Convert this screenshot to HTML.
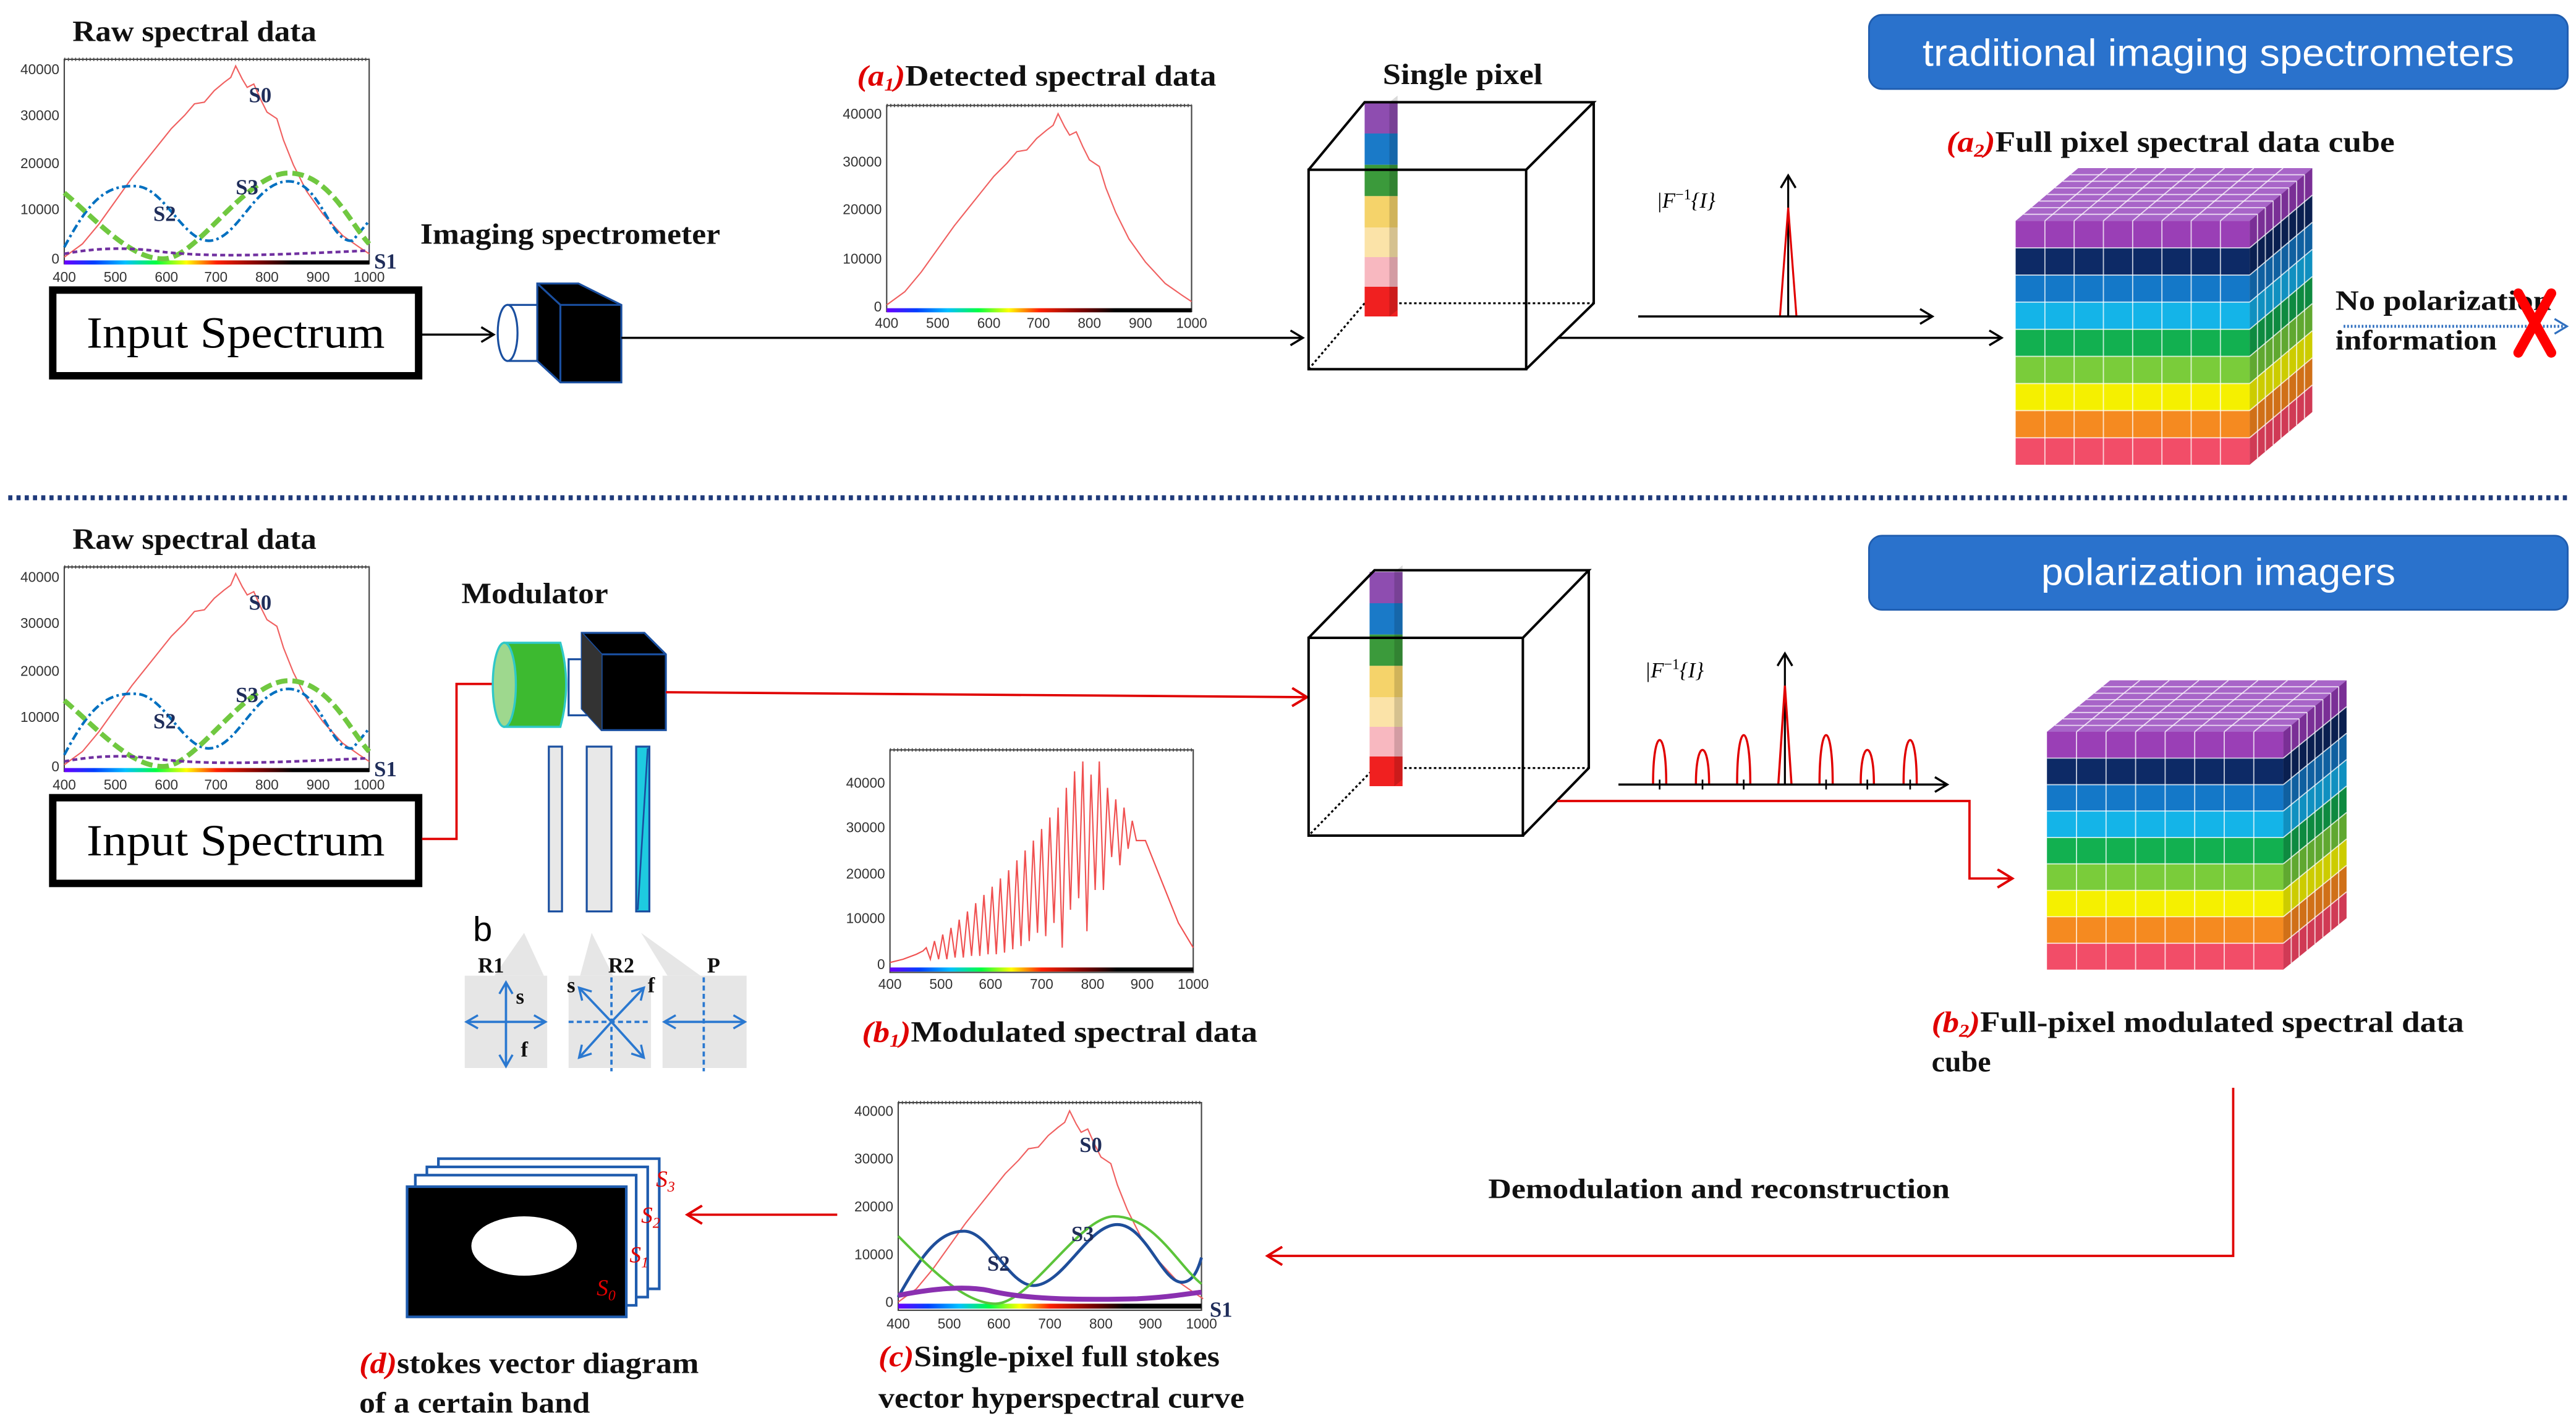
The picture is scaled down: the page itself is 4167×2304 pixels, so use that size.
<!DOCTYPE html>
<html><head><meta charset="utf-8"><style>
html,body{margin:0;padding:0;background:#fff;}
svg{display:block;}
.t{font-family:"Liberation Serif",serif;font-weight:bold;fill:#111;}
.ax{font-family:"Liberation Sans",sans-serif;font-size:8.5px;fill:#333;}
.sl{font-family:"Liberation Serif",serif;font-weight:bold;font-size:13px;fill:#1f2d5a;}
.r{fill:#e00000;font-style:italic;}
</style></head><body>
<svg width="4167" height="2304" viewBox="0 0 1563 864" preserveAspectRatio="none" xmlns="http://www.w3.org/2000/svg">
<defs>
<marker id="ab" markerWidth="10" markerHeight="10" refX="8" refY="5" orient="auto" markerUnits="userSpaceOnUse"><path d="M1,0.5 L8.5,5 L1,9.5" fill="none" stroke="#000" stroke-width="1.3"/></marker>
<marker id="ar" markerWidth="12" markerHeight="12" refX="9" refY="6" orient="auto" markerUnits="userSpaceOnUse"><path d="M1,0.5 L10,6 L1,11.5" fill="none" stroke="#e00000" stroke-width="1.5"/></marker>
<marker id="abl" markerWidth="10" markerHeight="10" refX="8" refY="5" orient="auto" markerUnits="userSpaceOnUse"><path d="M1,0.5 L8.5,5 L1,9.5" fill="none" stroke="#2f6fbf" stroke-width="1.2"/></marker>
<marker id="bb" markerWidth="10" markerHeight="10" refX="7" refY="5" orient="auto" markerUnits="userSpaceOnUse"><path d="M1,1 L8,5 L1,9" fill="none" stroke="#2a78d0" stroke-width="1.3"/></marker>
<linearGradient id="rb" x1="0" x2="1" y1="0" y2="0">
<stop offset="0" stop-color="#6a00ff"/><stop offset="0.1" stop-color="#0040ff"/><stop offset="0.2" stop-color="#00c0ff"/><stop offset="0.3" stop-color="#00ff40"/><stop offset="0.4" stop-color="#ffff00"/><stop offset="0.5" stop-color="#ff2000"/><stop offset="0.65" stop-color="#700000"/><stop offset="0.75" stop-color="#000"/></linearGradient>

<path id="s0" d="M39,156 L50,148 60,136 70,122 80,108 88,98 96,88 104,78 112,70 118,63 124,62 130,55 136,50 140,47 143,40 147,48 150,53 154,51 158,60 162,68 168,72 172,85 178,100 186,116 196,130 208,143 218,150 224,154" fill="none" stroke="#f06060" stroke-width="0.8"/>

<g id="cube">
<rect x="0" y="0" width="142" height="16.5" fill="#9a3fb6"/>
<rect x="0" y="16.4" width="142" height="16.5" fill="#0d2a66"/>
<rect x="0" y="32.9" width="142" height="16.5" fill="#1478c8"/>
<rect x="0" y="49.3" width="142" height="16.5" fill="#14b4e8"/>
<rect x="0" y="65.8" width="142" height="16.5" fill="#12b050"/>
<rect x="0" y="82.2" width="142" height="16.5" fill="#7acc3a"/>
<rect x="0" y="98.7" width="142" height="16.5" fill="#f5f000"/>
<rect x="0" y="115.1" width="142" height="16.5" fill="#f58a20"/>
<rect x="0" y="131.6" width="142" height="16.4" fill="#f24d68"/>
<polygon points="0,0 142,0 180,-32 38,-32" fill="#a865c8"/>
<polygon points="142,0 180,-32 180,-15.6 142,16.4" fill="#7a2f96"/>
<polygon points="142,16.4 180,-15.6 180,0.9 142,32.9" fill="#0a1f50"/>
<polygon points="142,32.9 180,0.9 180,17.3 142,49.3" fill="#1060a0"/>
<polygon points="142,49.3 180,17.3 180,33.8 142,65.8" fill="#1090c0"/>
<polygon points="142,65.8 180,33.8 180,50.2 142,82.2" fill="#0e8a40"/>
<polygon points="142,82.2 180,50.2 180,66.7 142,98.7" fill="#60a830"/>
<polygon points="142,98.7 180,66.7 180,83.1 142,115.1" fill="#cccc00"/>
<polygon points="142,115.1 180,83.1 180,99.6 142,131.6" fill="#d07018"/>
<polygon points="142,131.6 180,99.6 180,116 142,148" fill="#d03a55"/>
<g stroke="#fff" stroke-opacity="0.75" stroke-width="0.7" fill="none">
<path d="M17.75,0V148M35.5,0V148M53.25,0V148M71,0V148M88.75,0V148M106.5,0V148M124.25,0V148"/>
<path d="M0,16.4H142M0,32.9H142M0,49.3H142M0,65.8H142M0,82.2H142M0,98.7H142M0,115.1H142M0,131.6H142"/>
<path d="M17.75,0l38,-32M35.5,0l38,-32M53.25,0l38,-32M71,0l38,-32M88.75,0l38,-32M106.5,0l38,-32M124.25,0l38,-32"/>
<path d="M4.75,-4H146.75M9.5,-8H151.5M14.25,-12H156.25M19,-16H161M23.75,-20H165.75M28.5,-24H170.5M33.25,-28H175.25"/>
<path d="M146.75,-4v148M151.5,-8v148M156.25,-12v148M161,-16v148M165.75,-20v148M170.5,-24v148M175.25,-28v148"/>
<path d="M142,16.4l38,-32M142,32.9l38,-32M142,49.3l38,-32M142,65.8l38,-32M142,82.2l38,-32M142,98.7l38,-32M142,115.1l38,-32M142,131.6l38,-32"/>
</g>
</g>

<g id="col">
<rect x="0" y="0" width="20" height="19" fill="#8e4db0"/>
<rect x="0" y="19" width="20" height="19" fill="#1a7ac8"/>
<rect x="0" y="38" width="20" height="19" fill="#3b9a3b"/>
<rect x="0" y="57" width="20" height="19" fill="#f5d36a"/>
<rect x="0" y="76" width="20" height="18" fill="#fbe3a8"/>
<rect x="0" y="94" width="20" height="18" fill="#f8b8c0"/>
<rect x="0" y="112" width="20" height="18" fill="#f02020"/>
<path d="M15,0 L20,-4 V126 L15,130Z" fill="#000" fill-opacity="0.15"/>
</g>

<g id="plotA">
<rect x="39" y="36" width="185" height="124" fill="#fff" stroke="#444" stroke-width="0.8"/>
<path d="M39,36H224" stroke="#444" stroke-width="2" stroke-dasharray="0.6 1.6" fill="none"/>
<rect x="39" y="158" width="185" height="2.5" fill="url(#rb)"/>
<text class="ax" x="36" y="45" text-anchor="end">40000</text>
<text class="ax" x="36" y="73" text-anchor="end">30000</text>
<text class="ax" x="36" y="102" text-anchor="end">20000</text>
<text class="ax" x="36" y="130" text-anchor="end">10000</text>
<text class="ax" x="36" y="160" text-anchor="end">0</text>
<g class="ax" text-anchor="middle"><text x="39" y="171">400</text><text x="70" y="171">500</text><text x="101" y="171">600</text><text x="131" y="171">700</text><text x="162" y="171">800</text><text x="193" y="171">900</text><text x="224" y="171">1000</text></g>
<use href="#s0"/>
<path d="M39,150 C55,120 65,112 83,113 C100,114 112,148 128,146 C145,144 155,110 175,110 C195,110 200,148 214,146 L224,134" fill="none" stroke="#0070c0" stroke-width="1.6" stroke-dasharray="5 2 1.5 2"/>
<path d="M39,117 C60,135 80,158 100,157 C120,156 150,104 176,105 C200,106 212,135 224,148" fill="none" stroke="#70c840" stroke-width="3" stroke-dasharray="7 3"/>
<path d="M39,154 C60,150 80,150 100,153 C130,156 160,155 224,152" fill="none" stroke="#7030a0" stroke-width="1.6" stroke-dasharray="3 2"/>
<text class="sl" x="151" y="62">S0</text><text class="sl" x="93" y="134">S2</text><text class="sl" x="143" y="118">S3</text><text class="sl" x="227" y="163">S1</text>
<text class="t" x="44" y="25" font-size="18" textLength="148" lengthAdjust="spacingAndGlyphs">Raw spectral data</text>
<rect x="32" y="176" width="222" height="52" fill="#fff" stroke="#000" stroke-width="4.5"/>
<text x="143" y="211" text-anchor="middle" font-family="Liberation Serif,serif" font-size="27" textLength="181" lengthAdjust="spacingAndGlyphs">Input Spectrum</text>
</g>
</defs>

<!-- ============ TOP ============ -->
<use href="#plotA"/>
<line x1="256" y1="203" x2="299" y2="203" stroke="#000" stroke-width="1.3" marker-end="url(#ab)"/>
<!-- camera -->
<rect x="308" y="185" width="32" height="34" fill="#fff" stroke="#1a4fa0" stroke-width="1.2"/>
<ellipse cx="308" cy="202" rx="6" ry="17" fill="#fff" stroke="#1a4fa0" stroke-width="1.2"/>
<polygon points="326,172 351,172 377,185 377,232 340,232 326,219" fill="#000" stroke="#1a4fa0" stroke-width="1.2"/>
<polyline points="326,172 340,185 377,185 M340,185" fill="none" stroke="#1a4fa0" stroke-width="1.2"/>
<line x1="340" y1="185" x2="340" y2="232" stroke="#1a4fa0" stroke-width="1.2"/>
<line x1="377" y1="205" x2="790" y2="205" stroke="#000" stroke-width="1.3" marker-end="url(#ab)"/>
<text class="t" x="255" y="148" font-size="18" textLength="182" lengthAdjust="spacingAndGlyphs">Imaging spectrometer</text>

<!-- plot a1 -->
<rect x="538" y="64" width="185" height="125" fill="#fff" stroke="#444" stroke-width="0.8"/>
<path d="M538,64H723" stroke="#444" stroke-width="2" stroke-dasharray="0.6 1.6" fill="none"/>
<rect x="538" y="187" width="185" height="2.5" fill="url(#rb)"/>
<g class="ax" text-anchor="end"><text x="535" y="72">40000</text><text x="535" y="101">30000</text><text x="535" y="130">20000</text><text x="535" y="160">10000</text><text x="535" y="189">0</text></g>
<g class="ax" text-anchor="middle"><text x="538" y="199">400</text><text x="569" y="199">500</text><text x="600" y="199">600</text><text x="630" y="199">700</text><text x="661" y="199">800</text><text x="692" y="199">900</text><text x="723" y="199">1000</text></g>
<use href="#s0" transform="translate(499,29)"/>
<text class="t" x="520" y="52" font-size="18" textLength="218" lengthAdjust="spacingAndGlyphs"><tspan class="r">(a</tspan><tspan class="r" font-size="11" dy="3">1</tspan><tspan class="r" dy="-3">)</tspan>Detected spectral data</text>

<!-- wire cube 1 -->
<text class="t" x="839" y="51" font-size="18" textLength="97" lengthAdjust="spacingAndGlyphs">Single pixel</text>
<g fill="none" stroke="#000">
<path d="M828,184H967M828,184L794,224" stroke-width="1.2" stroke-dasharray="1.5 1.5"/>
</g>
<use href="#col" transform="translate(828,62)"/>
<g fill="none" stroke="#000" stroke-width="1.5">
<rect x="794" y="103" width="132" height="121"/>
<path d="M794,103L828,62H967L926,103M967,62V184L926,224"/>
</g>
<text x="1005" y="126" font-family="Liberation Serif,serif" font-style="italic" font-size="13">|F<tspan font-size="9" dy="-5" font-style="normal">−1</tspan><tspan dy="5">{I}</tspan></text>
<line x1="1085" y1="192" x2="1085" y2="107" stroke="#000" stroke-width="1.2" marker-end="url(#ab)"/>
<path d="M1080,192 L1085,126 L1090,192" fill="none" stroke="#e00000" stroke-width="1.2"/>
<line x1="994" y1="192" x2="1172" y2="192" stroke="#000" stroke-width="1.3" marker-end="url(#ab)"/>
<line x1="945" y1="205" x2="1214" y2="205" stroke="#000" stroke-width="1.3" marker-end="url(#ab)"/>

<!-- banner 1 -->
<rect x="1134" y="9" width="424" height="45" rx="8" fill="#2a72cc" stroke="#1f5cae"/>
<text x="1346" y="40" text-anchor="middle" font-family="Liberation Sans,sans-serif" font-size="23" fill="#fff" textLength="359" lengthAdjust="spacingAndGlyphs">traditional imaging spectrometers</text>
<text class="t" x="1181" y="92" font-size="18" textLength="272" lengthAdjust="spacingAndGlyphs"><tspan class="r">(a</tspan><tspan class="r" font-size="11" dy="3">2</tspan><tspan class="r" dy="-3">)</tspan>Full pixel spectral data cube</text>
<use href="#cube" transform="translate(1223,134)"/>
<line x1="1422" y1="198" x2="1557" y2="198" stroke="#2f6fbf" stroke-width="1.8" stroke-dasharray="1 1.2" marker-end="url(#abl)"/>
<text class="t" x="1417" y="188" font-size="17" textLength="131" lengthAdjust="spacingAndGlyphs">No polarization</text>
<text class="t" x="1417" y="212" font-size="17" textLength="98" lengthAdjust="spacingAndGlyphs">information</text>
<path d="M1528,178 L1548,214 M1548,178 L1528,214" stroke="#ff0000" stroke-width="6" stroke-linecap="round"/>

<!-- separator -->
<line x1="5" y1="302" x2="1558" y2="302" stroke="#1f3a7a" stroke-width="3" stroke-dasharray="2.5 2.5"/>

<!-- ============ BOTTOM ============ -->
<use href="#plotA" transform="translate(0,308)"/>
<polyline points="256,509 277,509 277,415 308,415" fill="none" stroke="#e00000" stroke-width="1.4" marker-end="url(#ar)"/>
<text class="t" x="280" y="366" font-size="18" textLength="89" lengthAdjust="spacingAndGlyphs">Modulator</text>
<!-- modulator -->
<rect x="345" y="400" width="22" height="34" fill="#fff" stroke="#1a4fa0" stroke-width="1.2"/>
<path d="M306,390 H340 Q347,415 340,441 H306Z" fill="#3dba30" stroke="#2fc8c8" stroke-width="1.3"/>
<ellipse cx="306" cy="415.5" rx="7" ry="25.5" fill="#9ed88e" stroke="#2fc8c8" stroke-width="1.3"/>
<polygon points="353,384 391,384 404,397 404,443 365,443 353,430" fill="#000" stroke="#1a4fa0" stroke-width="1.2"/>
<path d="M353,384 L365,397 H404 M365,397 V443" fill="none" stroke="#1a4fa0" stroke-width="1.2"/>
<polygon points="353,384 365,397 365,443 353,430" fill="#333"/>
<line x1="404" y1="420" x2="792" y2="423" stroke="#e00000" stroke-width="1.4" marker-end="url(#ar)"/>
<!-- plates -->
<rect x="333" y="453" width="8" height="100" fill="#e8e8e8" stroke="#1a4fa0" stroke-width="1.2"/>
<rect x="356" y="453" width="15" height="100" fill="#e8e8e8" stroke="#1a4fa0" stroke-width="1.2"/>
<rect x="386" y="453" width="8" height="100" fill="#1ecbe0" stroke="#1a4fa0" stroke-width="1.2"/>
<line x1="387" y1="552" x2="393" y2="454" stroke="#1a4fa0" stroke-width="1"/>
<text x="287" y="571" font-family="Liberation Sans,sans-serif" font-size="21">b</text>
<g fill="#e6e6e6">
<polygon points="318,566 300,592 330,592"/>
<polygon points="359,566 352,592 372,592"/>
<polygon points="389,566 405,592 425,592"/>
<rect x="282" y="592" width="50" height="56"/>
<rect x="345" y="592" width="50" height="56"/>
<rect x="402" y="592" width="51" height="56"/>
</g>
<g class="t" font-size="13"><text x="290" y="590">R1</text><text x="369" y="590">R2</text><text x="429" y="590">P</text></g>
<g stroke="#2a78d0" stroke-width="1.4" fill="none">
<line x1="307" y1="620" x2="307" y2="597" marker-end="url(#bb)"/>
<line x1="307" y1="620" x2="307" y2="646" marker-end="url(#bb)"/>
<line x1="307" y1="620" x2="284" y2="620" marker-end="url(#bb)"/>
<line x1="307" y1="620" x2="330" y2="620" marker-end="url(#bb)"/>
<line x1="371" y1="620" x2="352" y2="600" marker-end="url(#bb)"/>
<line x1="371" y1="620" x2="390" y2="600" marker-end="url(#bb)"/>
<line x1="371" y1="620" x2="352" y2="641" marker-end="url(#bb)"/>
<line x1="371" y1="620" x2="390" y2="641" marker-end="url(#bb)"/>
<path d="M371,593V650M345,620H395M427,593V650" stroke-dasharray="3 2"/>
<line x1="427" y1="620" x2="404" y2="620" marker-end="url(#bb)"/>
<line x1="427" y1="620" x2="451" y2="620" marker-end="url(#bb)"/>
</g>
<g class="t" font-size="13"><text x="313" y="609">s</text><text x="316" y="641">f</text><text x="344" y="602">s</text><text x="393" y="602">f</text></g>

<!-- plot b1 -->
<rect x="540" y="455" width="184" height="135" fill="#fff" stroke="#444" stroke-width="0.8"/>
<path d="M540,455H724" stroke="#444" stroke-width="2" stroke-dasharray="0.6 1.6" fill="none"/>
<rect x="540" y="587" width="184" height="2.5" fill="url(#rb)"/>
<g class="ax" text-anchor="end"><text x="537" y="478">40000</text><text x="537" y="505">30000</text><text x="537" y="533">20000</text><text x="537" y="560">10000</text><text x="537" y="588">0</text></g>
<g class="ax" text-anchor="middle"><text x="540" y="600">400</text><text x="571" y="600">500</text><text x="601" y="600">600</text><text x="632" y="600">700</text><text x="663" y="600">800</text><text x="693" y="600">900</text><text x="724" y="600">1000</text></g>
<path d="M540,584 L548,582 556,579 560,577 562,575 564.5,582 567,571 569.5,582 572,567 574.5,582 577,563 579.5,581 582,558 584.5,581 587,553 589.5,580 592,548 594.5,580 597,543 599.5,579 602,538 604.5,579 607,533 609.5,578 612,528 614.5,576 617,522 619.5,574 622,516 624.5,571 627,510 629.5,566 632,503 634.5,568 637,496 639.5,560 642,490 644.5,575 647,478 649.5,552 652,468 654.5,545 657,462 659.5,565 662,470 664.5,540 667,462 669.5,540 672,478 674.5,520 677,485 679.5,525 682,490 684.5,515 687,498 689.5,510 695,510 705,535 715,560 724,575" fill="none" stroke="#f05050" stroke-width="0.8"/>
<text class="t" x="523" y="632" font-size="18" textLength="240" lengthAdjust="spacingAndGlyphs"><tspan class="r">(b</tspan><tspan class="r" font-size="11" dy="3">1</tspan><tspan class="r" dy="-3">)</tspan>Modulated spectral data</text>

<!-- wire cube 2 -->
<g fill="none" stroke="#000">
<path d="M834,466H964M834,466L794,507" stroke-width="1.2" stroke-dasharray="1.5 1.5"/>
</g>
<use href="#col" transform="translate(831,347)"/>
<g fill="none" stroke="#000" stroke-width="1.5">
<rect x="794" y="387" width="130" height="120"/>
<path d="M794,387L834,346H964L924,387M964,346V466L924,507"/>
</g>
<text x="998" y="411" font-family="Liberation Serif,serif" font-style="italic" font-size="13">|F<tspan font-size="9" dy="-5" font-style="normal">−1</tspan><tspan dy="5">{I}</tspan></text>
<line x1="1083" y1="476" x2="1083" y2="397" stroke="#000" stroke-width="1.2" marker-end="url(#ab)"/>
<g fill="none" stroke="#e00000" stroke-width="1.3">
<path d="M1079,476 L1083,416 L1087,476"/>
<path d="M1003,476 C1003,440 1011,440 1011,476"/>
<path d="M1029,476 C1029,448 1037,448 1037,476"/>
<path d="M1054,476 C1054,436 1062,436 1062,476"/>
<path d="M1104,476 C1104,436 1112,436 1112,476"/>
<path d="M1129,476 C1129,448 1137,448 1137,476"/>
<path d="M1155,476 C1155,440 1163,440 1163,476"/>
</g>
<line x1="982" y1="476" x2="1181" y2="476" stroke="#000" stroke-width="1.3" marker-end="url(#ab)"/>
<path d="M1007,473v6M1033,473v6M1058,473v6M1108,473v6M1133,473v6M1159,473v6" stroke="#000" stroke-width="1"/>
<polyline points="945,486 1195,486 1195,533 1220,533" fill="none" stroke="#e00000" stroke-width="1.4" marker-end="url(#ar)"/>

<!-- banner 2 -->
<rect x="1134" y="325" width="424" height="45" rx="8" fill="#2a72cc" stroke="#1f5cae"/>
<text x="1346" y="355" text-anchor="middle" font-family="Liberation Sans,sans-serif" font-size="23" fill="#fff" textLength="215" lengthAdjust="spacingAndGlyphs">polarization imagers</text>
<use href="#cube" transform="translate(1242,444) scale(1.01,0.975)"/>
<text class="t" x="1172" y="626" font-size="18" textLength="323" lengthAdjust="spacingAndGlyphs"><tspan class="r">(b</tspan><tspan class="r" font-size="11" dy="3">2</tspan><tspan class="r" dy="-3">)</tspan>Full-pixel modulated spectral data</text>
<text class="t" x="1172" y="650" font-size="18">cube</text>

<polyline points="1355,660 1355,762 770,762" fill="none" stroke="#e00000" stroke-width="1.4" marker-end="url(#ar)"/>
<text class="t" x="903" y="727" font-size="17" textLength="280" lengthAdjust="spacingAndGlyphs">Demodulation and reconstruction</text>

<!-- plot c -->
<rect x="545" y="669" width="184" height="126" fill="#fff" stroke="#444" stroke-width="0.8"/>
<path d="M545,669H729" stroke="#444" stroke-width="2" stroke-dasharray="0.6 1.6" fill="none"/>
<rect x="545" y="791" width="184" height="3" fill="url(#rb)"/>
<g class="ax" text-anchor="end"><text x="542" y="677">40000</text><text x="542" y="706">30000</text><text x="542" y="735">20000</text><text x="542" y="764">10000</text><text x="542" y="793">0</text></g>
<g class="ax" text-anchor="middle"><text x="545" y="806">400</text><text x="576" y="806">500</text><text x="606" y="806">600</text><text x="637" y="806">700</text><text x="668" y="806">800</text><text x="698" y="806">900</text><text x="729" y="806">1000</text></g>
<use href="#s0" transform="translate(506,634)"/>
<path d="M545,787 C560,760 570,747 585,747 C600,747 612,780 627,780 C645,780 660,743 678,743 C695,743 705,778 717,778 C724,778 727,770 729,763" fill="none" stroke="#1f4e9a" stroke-width="1.8"/>
<path d="M545,750 C565,770 585,791 604,791 C625,791 655,738 676,738 C700,738 715,768 729,779" fill="none" stroke="#5cc43a" stroke-width="1.5"/>
<path d="M545,786 C565,782 585,780 600,783 C620,788 650,789 690,788 C710,787 720,785 729,784" fill="none" stroke="#8a30b0" stroke-width="3"/>
<text class="sl" x="655" y="699">S0</text><text class="sl" x="599" y="771">S2</text><text class="sl" x="650" y="753">S3</text><text class="sl" x="734" y="799">S1</text>
<text class="t" x="533" y="829" font-size="18" textLength="207" lengthAdjust="spacingAndGlyphs"><tspan class="r" font-style="normal">(c)</tspan>Single-pixel full stokes</text>
<text class="t" x="533" y="854" font-size="18" textLength="222" lengthAdjust="spacingAndGlyphs">vector hyperspectral curve</text>

<line x1="508" y1="737" x2="418" y2="737" stroke="#e00000" stroke-width="1.4" marker-end="url(#ar)"/>
<!-- stacked frames -->
<rect x="266" y="703" width="134" height="79" fill="#fff" stroke="#1f5cae" stroke-width="1.6"/>
<rect x="259" y="708" width="134" height="79" fill="#fff" stroke="#1f5cae" stroke-width="1.6"/>
<rect x="252" y="713" width="134" height="79" fill="#fff" stroke="#1f5cae" stroke-width="1.6"/>
<rect x="247" y="720" width="133" height="79" fill="#000" stroke="#1f5cae" stroke-width="1.6"/>
<ellipse cx="318" cy="756" rx="32" ry="18" fill="#fff"/>
<g font-family="Liberation Serif,serif" font-style="italic" font-size="14" fill="#e00000">
<text x="398" y="720">S<tspan font-size="9" dy="3">3</tspan></text>
<text x="389" y="742">S<tspan font-size="9" dy="3">2</tspan></text>
<text x="382" y="766">S<tspan font-size="9" dy="3">1</tspan></text>
<text x="362" y="786">S<tspan font-size="9" dy="3">0</tspan></text>
</g>
<text class="t" x="218" y="833" font-size="18" textLength="206" lengthAdjust="spacingAndGlyphs"><tspan class="r" font-style="normal">(d)</tspan>stokes vector diagram</text>
<text class="t" x="218" y="857" font-size="18" textLength="140" lengthAdjust="spacingAndGlyphs">of a certain band</text>
</svg>
</body></html>
